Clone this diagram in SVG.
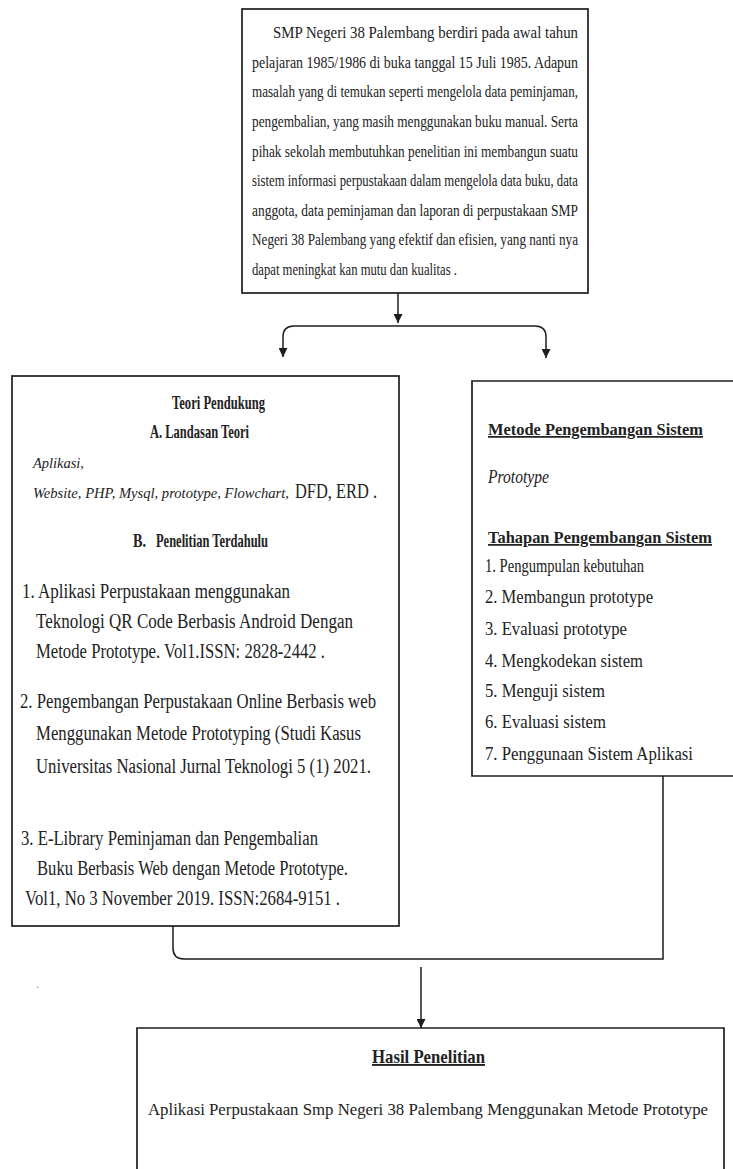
<svg xmlns="http://www.w3.org/2000/svg" width="733" height="1169" viewBox="0 0 733 1169">
<defs>
<style>
.bg{fill:#fff}
.box{fill:#fff;stroke:#1e1e1e;stroke-width:1.7}
.edge{fill:none;stroke:#1e1e1e;stroke-width:1.7}
.fillw{fill:#fff;stroke:none}
.conn{fill:none;stroke:#1e1e1e;stroke-width:1.5}
.t{font-family:"Liberation Serif","Times New Roman",serif;fill:#222}
.p{font-size:16.5px}
.l{font-size:20px}
.h{font-size:19px;font-weight:bold}
.hs{font-size:17.5px;font-weight:bold}
.i{font-style:italic}
.u{text-decoration:underline}
</style>
<marker id="arr" viewBox="0 0 10 10" refX="10" refY="5" markerWidth="9" markerHeight="9" markerUnits="userSpaceOnUse" orient="auto">
<path d="M0,0 L10,5 L0,10 z" fill="#1e1e1e"/>
</marker>
</defs>
<rect class="bg" x="0" y="0" width="733" height="1169"/>

<g id="connectors">
<path class="conn" d="M398 293 V323" marker-end="url(#arr)"/>
<path class="conn" d="M398 326 H294 Q283 326 283 337 V357" marker-end="url(#arr)"/>
<path class="conn" d="M398 326 H535 Q546 326 546 337 V358" marker-end="url(#arr)"/>
<path class="conn" d="M173 926 V948 Q173 959 184 959 H663 V776"/>
<path class="conn" d="M421 967 V1028" marker-end="url(#arr)"/>
</g>

<g id="latar">
<rect class="box" x="242" y="9" width="346" height="284"/>
<g class="t p">
<text x="273" y="38" textLength="305" lengthAdjust="spacingAndGlyphs">SMP Negeri 38 Palembang berdiri pada awal tahun</text>
<text x="252" y="68" textLength="326" lengthAdjust="spacingAndGlyphs">pelajaran 1985/1986 di buka tanggal 15 Juli 1985. Adapun</text>
<text x="252" y="97" textLength="326" lengthAdjust="spacingAndGlyphs">masalah yang di temukan seperti mengelola data peminjaman,</text>
<text x="252" y="127" textLength="326" lengthAdjust="spacingAndGlyphs">pengembalian, yang masih menggunakan buku manual. Serta</text>
<text x="252" y="157" textLength="326" lengthAdjust="spacingAndGlyphs">pihak sekolah membutuhkan penelitian ini membangun suatu</text>
<text x="252" y="186" textLength="326" lengthAdjust="spacingAndGlyphs">sistem informasi perpustakaan dalam mengelola data buku, data</text>
<text x="252" y="216" textLength="326" lengthAdjust="spacingAndGlyphs">anggota, data peminjaman dan laporan di perpustakaan SMP</text>
<text x="252" y="245" textLength="326" lengthAdjust="spacingAndGlyphs">Negeri 38 Palembang yang efektif dan efisien, yang nanti nya</text>
<text x="252" y="275" textLength="205" lengthAdjust="spacingAndGlyphs">dapat meningkat kan mutu dan kualitas .</text>
</g>
</g>

<g id="teori">
<rect class="box" x="12" y="376" width="387" height="550"/>
<g class="t">
<text class="h" x="172" y="409" textLength="93" lengthAdjust="spacingAndGlyphs">Teori Pendukung</text>
<text class="h" x="150" y="438" textLength="99" lengthAdjust="spacingAndGlyphs">A. Landasan Teori</text>
<text class="i" x="33" y="468" font-size="15" textLength="51" lengthAdjust="spacingAndGlyphs">Aplikasi,</text>
<text class="i" x="33" y="498" font-size="14.6" textLength="256" lengthAdjust="spacingAndGlyphs">Website, PHP, Mysql, prototype, Flowchart,</text>
<text x="295" y="498" font-size="21" textLength="82" lengthAdjust="spacingAndGlyphs">DFD, ERD .</text>
<text class="h" x="133" y="547" textLength="13" lengthAdjust="spacingAndGlyphs">B.</text>
<text class="h" x="156" y="547" textLength="112" lengthAdjust="spacingAndGlyphs">Penelitian Terdahulu</text>
<text class="l" x="22" y="598" textLength="268" lengthAdjust="spacingAndGlyphs">1.  Aplikasi Perpustakaan menggunakan</text>
<text class="l" x="36" y="628" textLength="317" lengthAdjust="spacingAndGlyphs">Teknologi QR Code Berbasis  Android Dengan</text>
<text class="l" x="36" y="658" textLength="289" lengthAdjust="spacingAndGlyphs">Metode Prototype. Vol1.ISSN: 2828-2442 .</text>
<text class="l" x="20" y="708" textLength="356" lengthAdjust="spacingAndGlyphs">2. Pengembangan Perpustakaan Online Berbasis web</text>
<text class="l" x="36" y="740" textLength="325" lengthAdjust="spacingAndGlyphs">Menggunakan Metode Prototyping (Studi Kasus</text>
<text class="l" x="36" y="773" textLength="335" lengthAdjust="spacingAndGlyphs">Universitas Nasional Jurnal Teknologi 5 (1) 2021.</text>
<text class="l" x="21" y="845" textLength="297" lengthAdjust="spacingAndGlyphs">3. E-Library Peminjaman dan Pengembalian</text>
<text class="l" x="37" y="875" textLength="311" lengthAdjust="spacingAndGlyphs">Buku Berbasis Web dengan Metode Prototype.</text>
<text class="l" x="25" y="905" textLength="315" lengthAdjust="spacingAndGlyphs">Vol1, No 3 November 2019. ISSN:2684-9151 .</text>
</g>
</g>

<g id="metode">
<rect class="fillw" x="472" y="381" width="261" height="395"/>
<path class="edge" d="M733 381 H472 V776 H733"/>
<g class="t">
<text class="hs u" x="488" y="435" textLength="215" lengthAdjust="spacingAndGlyphs">Metode Pengembangan Sistem</text>
<text class="i" x="488" y="483" font-size="18" textLength="61" lengthAdjust="spacingAndGlyphs">Prototype</text>
<text class="hs u" x="488" y="543" textLength="224" lengthAdjust="spacingAndGlyphs">Tahapan Pengembangan Sistem</text>
<text x="485" y="572" font-size="19" textLength="159" lengthAdjust="spacingAndGlyphs">1. Pengumpulan kebutuhan</text>
<text x="485" y="603" font-size="19" textLength="168" lengthAdjust="spacingAndGlyphs">2. Membangun prototype</text>
<text x="485" y="635" font-size="19" textLength="142" lengthAdjust="spacingAndGlyphs">3. Evaluasi prototype</text>
<text x="485" y="667" font-size="19" textLength="158" lengthAdjust="spacingAndGlyphs">4. Mengkodekan sistem</text>
<text x="485" y="697" font-size="19" textLength="120" lengthAdjust="spacingAndGlyphs">5. Menguji sistem</text>
<text x="485" y="728" font-size="19" textLength="121" lengthAdjust="spacingAndGlyphs">6. Evaluasi sistem</text>
<text x="485" y="760" font-size="19" textLength="208" lengthAdjust="spacingAndGlyphs">7. Penggunaan Sistem Aplikasi</text>
</g>
</g>

<g id="hasil">
<rect class="fillw" x="137" y="1028" width="587" height="141"/>
<path class="edge" d="M137 1169 V1028 H724 V1169"/>
<g class="t">
<text class="h u" x="372" y="1063" textLength="113" lengthAdjust="spacingAndGlyphs">Hasil Penelitian</text>
<text x="148" y="1115" font-size="17.5" textLength="560" lengthAdjust="spacingAndGlyphs">Aplikasi Perpustakaan Smp Negeri 38 Palembang Menggunakan Metode Prototype</text>
</g>
</g>

<text class="t" x="36" y="988" font-size="12" style="fill:#999">.</text>
</svg>
